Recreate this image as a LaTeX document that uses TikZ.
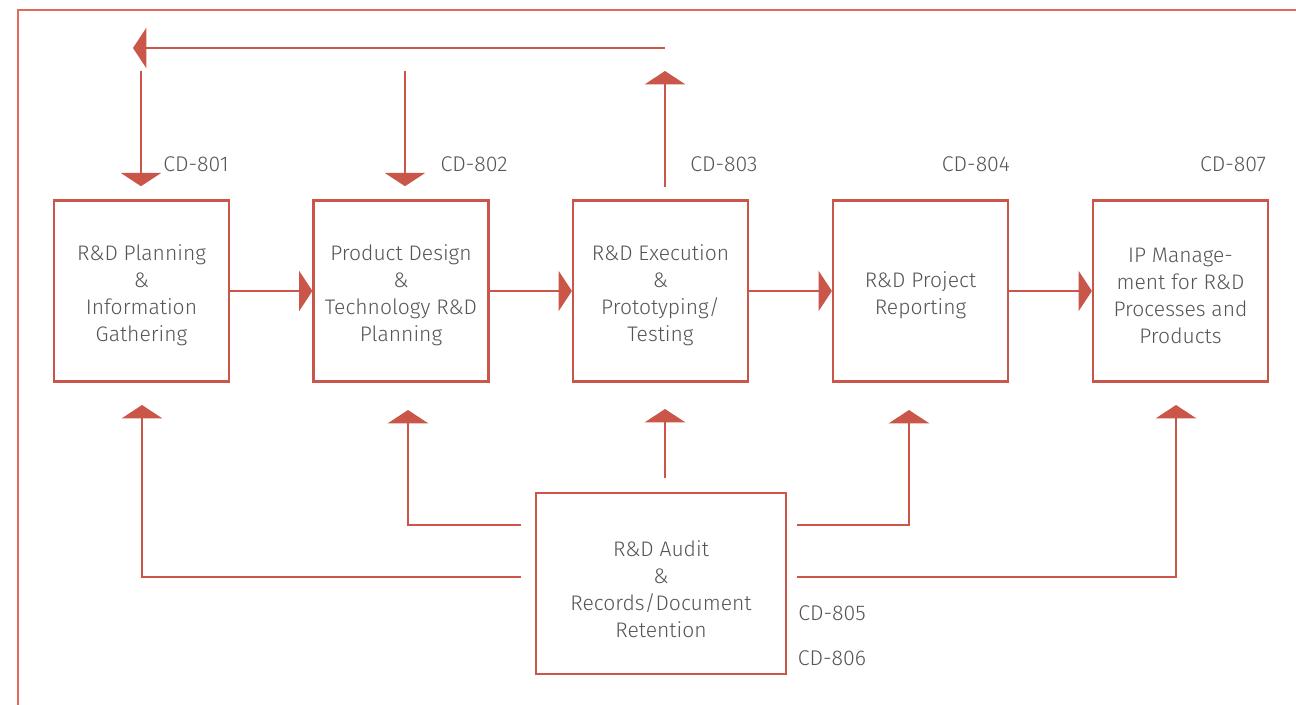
\documentclass[tikz,border=0pt]{standalone}
\usepackage{fontspec}
\setmainfont{Fira Sans Light}
\usetikzlibrary{arrows.meta,calc}
\definecolor{rdred}{HTML}{C95648}
\definecolor{rdframe}{HTML}{E06A5C}
\definecolor{rdtext}{HTML}{555555}
\begin{document}
\begin{tikzpicture}[x=0.75pt,y=-0.75pt,
  procbox/.style={draw=rdred, line width=1.9pt, minimum width=131pt, minimum height=135.75pt, inner sep=0pt},
  boxtext/.style={inner sep=0pt, align=center, text=rdtext, font=\fontsize{15.8}{20.25}\selectfont},
  arr/.style={draw=rdred, line width=2.2pt, -{Triangle[length=10pt,width=30pt]}},
  cdlabel/.style={text=rdtext, font=\fontsize{16}{18}\selectfont, inner sep=0pt}]
\useasboundingbox (0,0) rectangle (1296,705);
\clip (0,0) rectangle (1296,705);
\fill[white] (0,0) rectangle (1296,705);
\draw[rdframe, line width=1.1pt] (18,720) -- (18,10) -- (1310,10);

\node[procbox] (b1) at (141.5,291) {};
\node[procbox] (b2) at (401,291) {};
\node[procbox] (b3) at (660.5,291) {};
\node[procbox] (b4) at (920.5,291) {};
\node[procbox] (b5) at (1180.5,291) {};
\node[procbox, minimum width=187.5pt] (b6) at (661,583.5) {};

\node[boxtext] (b1t) at ($(b1)+(0,4.5)$) {R\&D Planning\\\&\\Information\\Gathering};
\node[boxtext] (b2t) at ($(b2)+(0,4.5)$) {Product Design\\\&\\Technology R\&D\\Planning};
\node[boxtext] (b3t) at ($(b3)+(0,4.5)$) {R\&D Execution\\\&\\Prototyping/\\Testing};
\node[boxtext] (b4t) at ($(b4)+(0,4.5)$) {R\&D Project\\Reporting};
\node[boxtext] (b5t) at ($(b5)+(0,4.5)$) {IP Manage-\\ment for R\&D\\Processes and\\Products};
\node[boxtext] (b6t) at ($(b6)+(0,6)$) {R\&D Audit\\\&\\Records/Document\\Retention};

\node[cdlabel] (c1) at (196,164) {CD-801};
\node[cdlabel] (c2) at (474,164) {CD-802};
\node[cdlabel] (c3) at (724,164) {CD-803};
\node[cdlabel] (c4) at (976,164) {CD-804};
\node[cdlabel] (c7) at (1233,164) {CD-807};
\node[cdlabel] (c5) at (832,613) {CD-805};
\node[cdlabel] (c6) at (832,658) {CD-806};

% flow arrows
\draw[arr] (b1) -- (b2);
\draw[arr] (b2) -- (b3);
\draw[arr] (b3) -- (b4);
\draw[arr] (b4) -- (b5);

% top feedback
\coordinate (f1) at (665,48);
\coordinate (f2) at (133,48);
\coordinate (d1) at (141,71);
\coordinate (d2) at (405,71);
\coordinate (u3) at (665,71);
\draw[arr] (f1) -- (f2);
\draw[arr, shorten >=9.75pt] (d1) -- (d1 |- b1.north);
\draw[arr, shorten >=9.75pt] (d2) -- (d2 |- b2.north);
\draw[arr, shorten <=9pt] (u3 |- b3.north) -- (u3);

% bottom audit connectors
\coordinate (t1) at (142,405);
\coordinate (t2) at (408,410);
\coordinate (t3) at (665,409);
\coordinate (t4) at (909,410);
\coordinate (t5) at (1176,405);
\draw[arr] ($(b6.west)+(-14,-58.5)$) -| (t2);
\draw[arr] ($(b6.west)+(-14,-6.5)$) -| (t1);
\draw[arr] ($(b6.north)+(4,-14)$) -- (t3);
\draw[arr] ($(b6.east)+(10,-58.5)$) -| (t4);
\draw[arr] ($(b6.east)+(10,-6.5)$) -| (t5);
\end{tikzpicture}
\end{document}
